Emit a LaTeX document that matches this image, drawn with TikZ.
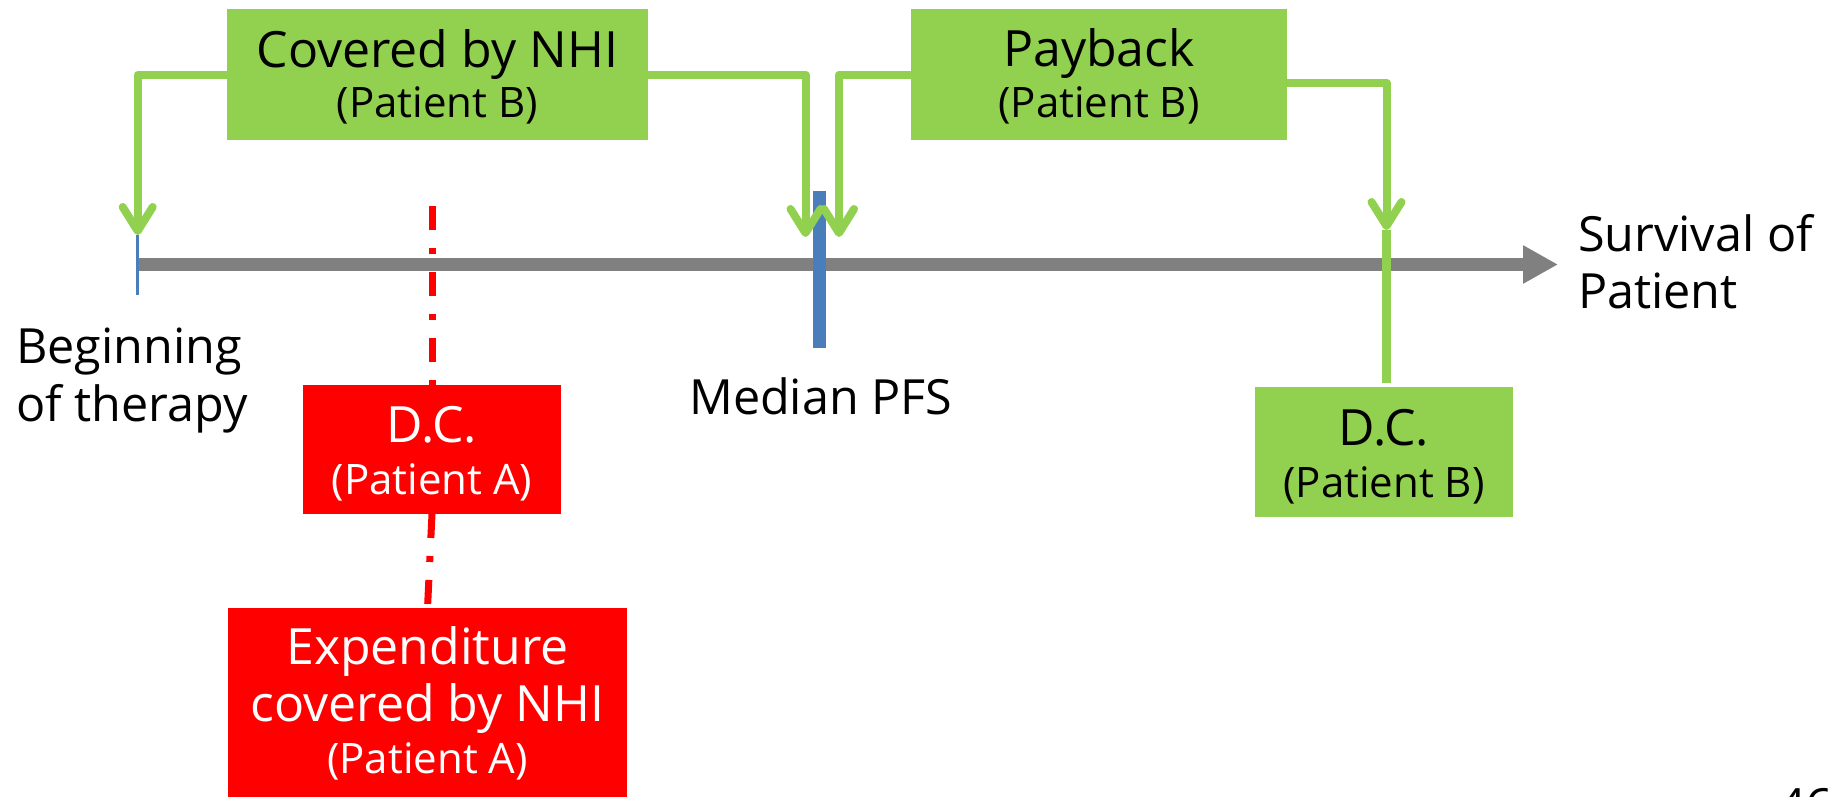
\documentclass[tikz,border=0pt]{standalone}
\usepackage{fontspec}
\setmainfont{Open Sans}
\usetikzlibrary{arrows.meta,calc}
\definecolor{nhigreen}{HTML}{92D050}
\definecolor{dcred}{HTML}{FF0000}
\definecolor{pfsblue}{HTML}{4A7EBB}
\definecolor{axisgray}{HTML}{808080}
\begin{document}
\begin{tikzpicture}[x=1pt,y=-1pt,
  box/.style={draw=none,inner sep=0pt,outer sep=0pt},
  greenbox/.style={box,fill=nhigreen},
  redbox/.style={box,fill=dcred},
  big/.style={font=\fontsize{50}{57}\selectfont,inner sep=0pt,anchor=base},
  small/.style={font=\fontsize{42}{50}\selectfont,inner sep=0pt,anchor=base},
  lefttext/.style={font=\fontsize{48.5}{57}\selectfont,inner sep=0pt,anchor=base west},
  link/.style={draw=nhigreen,line width=8pt,line join=round,
    -{Straight Barb[length=24pt,width=30pt,round]}},
  linkplain/.style={draw=nhigreen,line width=8.5pt},
  dashline/.style={draw=dcred,line width=7pt,
    dash pattern=on 24pt off 18pt on 6pt off 18pt},
  axisline/.style={draw=axisgray,line width=12.5pt,
    -{Triangle[length=35pt,width=36pt]}}
]
\useasboundingbox (0,0) rectangle (1831,797);
\clip (0,0) rectangle (1831,797);

% time axis
\coordinate (axL) at (139,264.5);
\coordinate (axR) at (1558,264.5);
\draw[axisline] (axL) -- (axR);

% arrow end points on the axis
\coordinate (tipL) at (137.7,235);
\coordinate (tipM1) at (805.5,237);
\coordinate (tipM2) at (839,237);
\coordinate (tipR) at (1386.5,230);
\coordinate (tA) at (432,206);

% start tick and median PFS marker
\draw[pfsblue,line width=3pt] (tipL) -- ++(0,60);
\node[box,fill=pfsblue,minimum width=13pt,minimum height=157pt] (pfs) at (819.5,269.5) {};

% boxes
\node[greenbox,minimum width=421pt,minimum height=131pt] (cov) at (437.3,74.7) {};
\node[greenbox,minimum width=376pt,minimum height=131pt] (pay) at (1099,74.7) {};
\node[redbox,minimum width=258pt,minimum height=129pt] (dcA) at (432,449.5) {};
\node[greenbox,minimum width=258pt,minimum height=130pt] (dcB) at (1384,452) {};
\node[redbox,minimum width=399pt,minimum height=194pt] (exp) at (427.5,705) {};

% patient A: dash-dotted marker
\draw[dashline] (tA) -- (dcA.north);
\draw[dashline] (dcA.south) -- (exp.north);

% patient B: brackets
\draw[link] (cov.west) -| (tipL);
\draw[link] (cov.east) -| (tipM1);
\draw[link] (pay.west) -| (tipM2);
\draw[link] ($(pay.east)+(0,8)$) -| (tipR);
\draw[linkplain] (tipR) -- ($(tipR |- dcB.north)+(0,-4)$);

% box texts
\node[big] (covT) at (437.3,68) {Covered by NHI};
\node[small] (covS) at (437.3,118) {(Patient B)};
\node[big] (payT) at (1099,67) {Payback};
\node[small] (payS) at (1099,118) {(Patient B)};
\node[big,text=white] (dcAT) at (432,442) {D.C.};
\node[small,text=white] (dcAS) at (432,494) {(Patient A)};
\node[big] (dcBT) at (1384,445) {D.C.};
\node[small] (dcBS) at (1384,497) {(Patient B)};
\node[big,text=white] (expT) at (427.5,664) {Expenditure};
\node[big,text=white] (expU) at (427.5,721) {covered by NHI};
\node[small,text=white] (expS) at (427.5,773) {(Patient A)};

% axis labels
\node[lefttext] (beg1) at (16,363) {Beginning};
\node[lefttext] (beg2) at (16,421) {of therapy};
\node[lefttext] (med) at (689,414) {Median PFS};
\node[lefttext] (sur1) at (1578,251) {Survival of};
\node[lefttext] (sur2) at (1578,308) {Patient};
\node[lefttext] (pg) at (1778,823) {46};
\end{tikzpicture}
\end{document}
